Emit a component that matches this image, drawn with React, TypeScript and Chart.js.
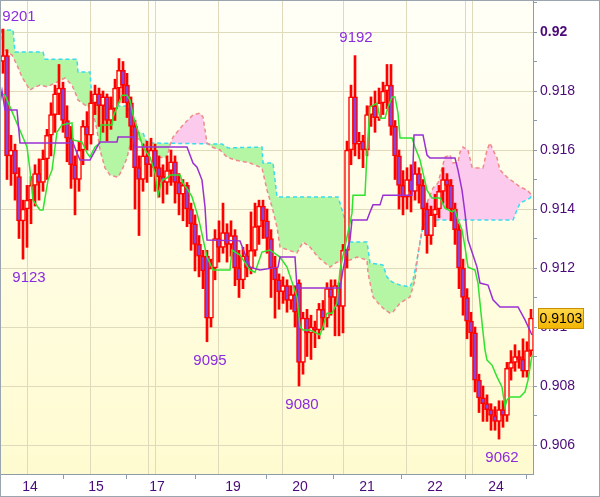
import React, { useEffect, useRef } from "react";
import { Chart, registerables } from "chart.js";

Chart.register(...registerables);

// Hourly candles, prices stored in pips (9192 = 0.9192)
const opens = [
  9190, 9192, 9158, 9160, 9151, 9136, 9140, 9143, 9148, 9152,
  9149, 9157, 9165, 9172, 9179, 9181, 9170, 9164, 9155, 9150,
  9160, 9168, 9165, 9176, 9179, 9175, 9178, 9170, 9174, 9181,
  9187, 9182, 9176, 9168, 9154, 9150, 9158, 9155, 9160, 9154,
  9151, 9149, 9153, 9156, 9149, 9145, 9148, 9140, 9135, 9128,
  9124, 9124, 9103, 9120, 9130, 9127, 9132, 9128, 9131, 9120,
  9116, 9124, 9120, 9126, 9134, 9141, 9136, 9130, 9120, 9116,
  9112, 9114, 9109, 9111, 9115, 9088, 9103, 9098, 9100, 9099,
  9106, 9103, 9113, 9110, 9114, 9107, 9126, 9160, 9178, 9162,
  9163, 9160, 9172, 9175, 9171, 9176, 9180, 9182, 9168, 9158,
  9148, 9144, 9150, 9146, 9152, 9148, 9140, 9131, 9138, 9140,
  9146, 9150, 9148, 9140, 9133, 9120, 9110, 9102, 9098, 9082,
  9076, 9074, 9072, 9070, 9068, 9072, 9070, 9086, 9088, 9090,
  9089, 9085, 9092,
];
const closes = [
  9192, 9158, 9160, 9152, 9136, 9140, 9143, 9148, 9152, 9149,
  9157, 9165, 9172, 9179, 9181, 9170, 9164, 9155, 9150, 9160,
  9168, 9165, 9176, 9179, 9175, 9178, 9170, 9174, 9181, 9187,
  9182, 9176, 9168, 9154, 9150, 9158, 9155, 9160, 9154, 9151,
  9149, 9153, 9156, 9149, 9145, 9148, 9140, 9135, 9128, 9124,
  9119, 9103, 9120, 9130, 9127, 9132, 9128, 9131, 9120, 9116,
  9124, 9120, 9126, 9134, 9141, 9136, 9130, 9120, 9116, 9112,
  9114, 9109, 9111, 9105, 9088, 9103, 9098, 9100, 9099, 9106,
  9103, 9113, 9110, 9114, 9107, 9126, 9160, 9178, 9162, 9163,
  9160, 9172, 9175, 9171, 9176, 9180, 9182, 9168, 9158, 9148,
  9144, 9150, 9146, 9152, 9148, 9140, 9131, 9138, 9140, 9146,
  9150, 9148, 9140, 9133, 9120, 9110, 9102, 9098, 9082, 9076,
  9074, 9072, 9070, 9068, 9072, 9070, 9086, 9088, 9090, 9089,
  9085, 9092, 9103,
];
const highs = [
  9201, 9194, 9165, 9162, 9154, 9143, 9148, 9151, 9155, 9157,
  9160, 9167, 9176, 9182, 9189, 9183, 9175, 9168, 9158, 9163,
  9170, 9173, 9180, 9182, 9181, 9180, 9179, 9178, 9184, 9191,
  9190, 9186, 9178, 9170, 9158, 9162, 9163, 9164, 9162, 9158,
  9155, 9158, 9160, 9158, 9152, 9150, 9149, 9142, 9138, 9131,
  9126, 9126, 9123, 9133, 9136, 9142, 9135, 9136, 9133, 9126,
  9127, 9128, 9139, 9142, 9143, 9143, 9140, 9133, 9124, 9118,
  9117, 9116, 9114, 9114, 9116, 9105, 9106, 9104, 9102, 9108,
  9109, 9115, 9116, 9116, 9115, 9128, 9163, 9182, 9192, 9166,
  9165, 9175, 9178, 9180, 9181, 9183, 9189, 9189, 9170, 9160,
  9153, 9154, 9155, 9156, 9154, 9150, 9142, 9141, 9145, 9148,
  9154, 9152, 9150, 9142, 9135, 9123, 9113, 9105, 9100, 9084,
  9080, 9077, 9074, 9073, 9075, 9075, 9088, 9092, 9094, 9092,
  9096, 9095, 9106,
];
const lows = [
  9186, 9150, 9148, 9143, 9130, 9123, 9127, 9135, 9141, 9143,
  9146, 9150, 9158, 9166, 9172, 9166, 9156, 9147, 9138, 9146,
  9155, 9160, 9162, 9172, 9168, 9166, 9163, 9167, 9170, 9176,
  9176, 9171, 9160, 9140, 9131, 9146, 9149, 9151, 9146, 9144,
  9142, 9145, 9148, 9142, 9138, 9136, 9134, 9126, 9119, 9117,
  9113, 9095, 9100, 9116, 9122, 9125, 9122, 9124, 9114, 9110,
  9113, 9117, 9118, 9124, 9128, 9130, 9125, 9110, 9103, 9106,
  9108, 9105, 9106, 9100, 9080, 9084, 9090, 9089, 9093, 9096,
  9099, 9100, 9104, 9097, 9097, 9098, 9120, 9155, 9158, 9157,
  9154, 9158, 9168, 9166, 9170, 9172, 9174, 9165, 9150, 9140,
  9138, 9140, 9139, 9143, 9142, 9133, 9125, 9128, 9134, 9137,
  9142, 9140, 9136, 9128, 9113, 9104, 9096, 9090, 9078, 9071,
  9068, 9068, 9065, 9065, 9062, 9066, 9068, 9082, 9085, 9086,
  9083, 9083, 9090,
];

// [candle index, pips]
const tenkan: [number, number][] = [
  [-0.75, 9179.3], [0.5, 9178.6], [6, 9161], [6.75, 9153.2], [7.5, 9143], [9.25, 9139.7], [10, 9139.7],
  [11.25, 9149.8], [12.25, 9153.2], [13.5, 9166.1], [14.75, 9168.5], [17.25, 9169.2], [17.5, 9163.4],
  [19.75, 9162.7], [21, 9159], [21.75, 9157.6], [23, 9161], [24.25, 9162.4], [24.5, 9168.5], [27.25, 9168.5],
  [27.5, 9171.2], [29.25, 9176.9], [29.75, 9178.6], [31, 9178.6], [31.75, 9176.9], [32.5, 9171.9], [35, 9161],
  [36.75, 9157.6], [38, 9152.2], [38.75, 9144.7], [39.75, 9149.8], [41, 9150.5], [41.75, 9151.5], [44.25, 9151.5],
  [45, 9148.8], [46.25, 9146.4], [47.25, 9144.1], [48.5, 9138.6], [49.25, 9134.6], [51, 9123.7], [52.5, 9119.3],
  [56.75, 9119.3], [57.25, 9126.1], [59.25, 9124.4], [61.75, 9119.3], [63, 9118.6], [64.75, 9125.4], [66.75, 9126.1],
  [69.25, 9123.7], [71, 9120.3], [73.5, 9110.2], [74.25, 9100], [75, 9099], [76.75, 9099], [79.25, 9097.3],
  [80, 9100], [81, 9104.7], [82.25, 9104.7], [83.5, 9108.1], [84.25, 9119.3], [86, 9130.5], [87.25, 9138.6],
  [87.5, 9144.7], [90.5, 9144.7], [91, 9159.3], [91.75, 9174.6], [93.5, 9175.9], [94.25, 9170.8], [95.5, 9170.8],
  [96.25, 9174.6], [97.25, 9178], [98, 9178], [98.75, 9172.5], [99.25, 9164.1], [102.25, 9164.1], [103, 9161],
  [104.25, 9156.6], [106, 9146.4], [107.25, 9143.7], [109.25, 9143.7], [110.5, 9140.3], [112.25, 9139], [113, 9139.7],
  [113.75, 9136.3], [114.75, 9132.9], [115.5, 9127.1], [116.25, 9120.3], [118, 9119.3], [118.75, 9114.9],
  [119.75, 9101.4], [120.5, 9092.2], [121, 9088.8], [122.25, 9087.1], [123.5, 9083.1], [124.75, 9079.7],
  [125.5, 9072.9], [126, 9075.3], [126.75, 9076.3], [129.25, 9076.3], [130.5, 9078], [131.25, 9082], [132.25, 9090.5],
];
const kijun: [number, number][] = [
  [-0.75, 9176], [-0.25, 9180], [0.5, 9173.6], [3.5, 9173.6], [4.25, 9162.4], [17.5, 9162.4], [18.5, 9159],
  [19.25, 9156.6], [21.75, 9156.6], [23.5, 9161], [24.25, 9162.7], [28.5, 9162.7], [28.75, 9164.4], [32.5, 9164.4],
  [33, 9161], [46, 9161], [47.5, 9155.6], [48.5, 9154.2], [49.75, 9149.8], [50.5, 9140.7], [51, 9129.5],
  [59.25, 9129.2], [61.75, 9120.3], [64.25, 9119.3], [68.75, 9120.3], [69.25, 9123.7], [73, 9123.7], [73.5, 9113.2],
  [84.25, 9113.2], [85, 9119.3], [86, 9126.1], [86.75, 9129.5], [87.25, 9136.3], [91, 9136.3], [91.75, 9139],
  [92.5, 9141.4], [94.25, 9141.4], [95, 9144.7], [102.25, 9144.7], [102.75, 9165.1], [105, 9165.1], [106, 9158.3],
  [106.75, 9157.3], [113, 9157.3], [113.75, 9153.2], [114.75, 9146.4], [115.5, 9138.6], [116.25, 9129.5],
  [118.5, 9120.3], [119.25, 9114.9], [121.25, 9114.2], [122.5, 9109.2], [124.25, 9106.8], [128.75, 9106.8],
  [130.5, 9102.4], [132.25, 9097.3],
];
const spanA: [number, number][] = [
  [-0.75, 9200.7], [2.5, 9200.7], [3, 9193.2], [10, 9193.2], [10.5, 9190.8], [18.5, 9190.8], [18.75, 9186.4],
  [21.75, 9186.4], [22.25, 9176.9], [24.25, 9174.9], [31.25, 9174.9], [32.25, 9166.1], [35, 9165.8], [36, 9162.4],
  [54.75, 9162], [56.25, 9160.7], [64.75, 9161], [65, 9155.6], [67.5, 9155.6], [68.5, 9144.1], [83.75, 9144.1],
  [84.25, 9142], [86, 9133.9], [86.75, 9128.8], [91, 9128.8], [91.75, 9121.7], [95, 9121], [96, 9116.9],
  [97.25, 9115.3], [99.25, 9114.2], [101.75, 9113.6], [102.5, 9115.9], [103.5, 9122.7], [104.25, 9128.5],
  [105, 9133.9], [106.25, 9136.3], [127.5, 9136.3], [128.5, 9139.7], [129.25, 9142], [131.75, 9143.7], [132.25, 9144.7],
];
const spanB: [number, number][] = [
  [-0.75, 9200.7], [-0.25, 9200], [0, 9194.9], [1, 9193.2], [2.25, 9192.2], [3.5, 9188.8], [4.75, 9184.7],
  [6.75, 9180.3], [7.5, 9181], [9.25, 9182], [11, 9181.4], [13, 9182.7], [15.5, 9184.4], [17.25, 9182],
  [18.5, 9178], [18.75, 9176.9], [21.25, 9174.6], [22.25, 9174.2], [23.5, 9166.8], [24.25, 9160], [25.5, 9153.9],
  [26.75, 9151.5], [28.75, 9150.8], [29.75, 9153.2], [31, 9157.3], [31.75, 9161.7], [32.5, 9165.1], [34.25, 9163.4],
  [36, 9160.7], [38.75, 9157.6], [41, 9157.3], [41.75, 9161.7], [42.5, 9164.4], [45, 9168.5], [47.5, 9171.9],
  [49.25, 9172.5], [50, 9171.2], [51, 9162.4], [52.25, 9161], [54.25, 9160], [56, 9157.6], [58, 9156.6],
  [61.75, 9155.6], [64.75, 9153.9], [66, 9146.4], [67.25, 9140.7], [68.5, 9133.9], [69.25, 9127.1], [71.25, 9126.1],
  [73.5, 9125.1], [75, 9128.8], [76.75, 9127.1], [78.75, 9123.7], [80.5, 9121.7], [81.75, 9120.3], [83.5, 9122],
  [86.75, 9122.7], [88.5, 9123.7], [91, 9122.7], [91.25, 9118.3], [92.5, 9110.2], [93.75, 9108.1], [95.5, 9105.8],
  [96.75, 9104.7], [97.5, 9105.1], [99.25, 9108.1], [101.75, 9110.2], [103, 9115.9], [103.75, 9125.1],
  [104.75, 9132.9], [105.5, 9139.7], [106.25, 9143], [107.5, 9147.1], [108.75, 9148.8], [109.75, 9153.9],
  [110.5, 9157.6], [111.75, 9158.3], [112.5, 9155.6], [113.75, 9155.9], [114.25, 9159.3], [115, 9161],
  [116.25, 9160], [117.25, 9154.2], [118.5, 9153.9], [120, 9153.9], [121, 9160], [121.75, 9162.4], [122.5, 9160],
  [123.5, 9157.3], [124.25, 9153.2], [126, 9150.8], [128, 9148.8], [129.25, 9147.5], [131, 9146.4], [132.25, 9144.7],
];

const xTickIdx = [6.75, 23.25, 38.5, 57.5, 74.25, 91, 108, 123.25];
const xTickLabels = ["14", "15", "17", "19", "20", "21", "22", "24"];
const dayLineIdx = [6, 21.75, 36.25, 38, 53.75, 69.75, 85, 100.75, 115.5, 117.25];
const peakIdx = [0, 88];
const troughIdx = [5, 51, 74, 124];

const FONT = "'Liberation Sans', Arial, sans-serif";
const AXIS_TEXT = "#4b0a7a";
const GRID = "#dedabb";
const AXIS_LINE = "#8e9ba8";
const toP = (v: number) => v / 10000;
const pts = (arr: [number, number][]) => arr.map(([x, y]) => ({ x, y: toP(y) }));

export default function App() {
  const ref = useRef<HTMLCanvasElement>(null);

  useEffect(() => {
    if (!ref.current) return;
    Chart.defaults.font.family = FONT;

    const n = closes.length;
    const bodyData = closes.map((c, i) => ({ x: i, y: [toP(opens[i]), toP(c)] }));
    const wickData = highs.map((h, i) => ({ x: i, y: [toP(lows[i]), toP(h)] }));
    const bodyFill = closes.map((c, i) => (c < opens[i] ? "#8a44d8" : "#fffbe2"));

    const bgPlugin = {
      id: "bg",
      beforeDraw(chart: any) {
        const { ctx, chartArea: a } = chart;
        ctx.save();
        ctx.fillStyle = "#ffffff";
        ctx.fillRect(0, 0, chart.width, chart.height);
        const g = ctx.createLinearGradient(0, a.top, 0, a.bottom);
        g.addColorStop(0, "#fffff7");
        g.addColorStop(1, "#fffbd0");
        ctx.fillStyle = g;
        ctx.fillRect(a.left, a.top, a.right - a.left, a.bottom - a.top);
        ctx.restore();
      },
      beforeDatasetsDraw(chart: any) {
        const { ctx, chartArea: a, scales } = chart;
        ctx.save();
        ctx.strokeStyle = GRID;
        ctx.lineWidth = 1;
        dayLineIdx.forEach((v) => {
          const x = Math.round(scales.x.getPixelForValue(v)) + 0.5;
          ctx.beginPath();
          ctx.moveTo(x, a.top);
          ctx.lineTo(x, a.bottom);
          ctx.stroke();
        });
        ctx.restore();
      },
    };

    const overlayPlugin = {
      id: "overlay",
      afterDraw(chart: any) {
        const { ctx, chartArea: a, scales } = chart;
        const xs = scales.x, ys = scales.y;
        ctx.save();
        ctx.font = `15px ${FONT}`;
        ctx.fillStyle = "#8b2be0";
        ctx.textAlign = "center";
        ctx.textBaseline = "middle";
        peakIdx.forEach((i) => {
          let x = xs.getPixelForValue(i) + 1;
          let y = ys.getPixelForValue(toP(highs[i])) - 18;
          x = Math.max(x, a.left + 18);
          y = Math.max(y, a.top + 16);
          ctx.fillText(String(highs[i]), x, y);
        });
        troughIdx.forEach((i) => {
          let x = xs.getPixelForValue(i) + 3;
          x = Math.max(x, a.left + 28);
          const y = ys.getPixelForValue(toP(lows[i])) + 19;
          ctx.fillText(String(lows[i]), x, y);
        });

        // last price tag
        const last = toP(closes[n - 1]);
        const ty = ys.getPixelForValue(last);
        const bx = a.right + 5, bw = 46, bh = 20;
        const by = Math.round(ty - bh / 2) + 0.5;
        const g = ctx.createLinearGradient(0, by, 0, by + bh);
        g.addColorStop(0, "#ffd84a");
        g.addColorStop(1, "#f2b400");
        ctx.fillStyle = g;
        ctx.fillRect(bx, by, bw, bh);
        ctx.strokeStyle = "#c89000";
        ctx.lineWidth = 1;
        ctx.strokeRect(bx + 0.5, by, bw - 1, bh);
        ctx.fillStyle = "#000000";
        ctx.font = `14px ${FONT}`;
        ctx.fillText(last.toFixed(4), bx + bw / 2, by + bh / 2 + 1);

        // frame
        ctx.strokeStyle = "#9aa5b0";
        ctx.strokeRect(0.5, 0.5, chart.width - 1, chart.height - 1);
        ctx.restore();
      },
    };

    const chart = new Chart(ref.current, {
      type: "bar",
      data: {
        datasets: [
          {
            type: "line",
            data: pts(spanA),
            borderColor: "#38dcef",
            borderWidth: 1.5,
            borderDash: [4, 3],
            pointRadius: 0,
            fill: { target: 1, above: "rgb(180,246,164)", below: "rgb(252,202,236)" },
            order: 10,
          } as any,
          {
            type: "line",
            data: pts(spanB),
            borderColor: "#f08a8a",
            borderWidth: 1.5,
            borderDash: [4, 3],
            pointRadius: 0,
            fill: false,
            order: 9,
          } as any,
          {
            type: "bar",
            data: wickData,
            backgroundColor: "#ff0000",
            borderWidth: 0,
            barThickness: 2,
            grouped: false,
            order: 6,
          } as any,
          {
            type: "bar",
            data: bodyData,
            backgroundColor: bodyFill,
            borderColor: "#ff0000",
            borderWidth: 1.5,
            borderSkipped: false,
            barThickness: 5,
            grouped: false,
            order: 5,
          } as any,
          {
            type: "line",
            data: pts(tenkan),
            borderColor: "#2fe32f",
            borderWidth: 1.5,
            pointRadius: 0,
            fill: false,
            order: 2,
          } as any,
          {
            type: "line",
            data: pts(kijun),
            borderColor: "#9a30d2",
            borderWidth: 1.5,
            pointRadius: 0,
            fill: false,
            order: 1,
          } as any,
        ],
      },
      options: {
        responsive: false,
        animation: false,
        devicePixelRatio: 1,
        layout: { padding: { left: 1, top: 1, right: 1, bottom: 1 } },
        plugins: { legend: { display: false }, tooltip: { enabled: false } },
        scales: {
          x: {
            type: "linear",
            min: -0.5,
            max: n - 0.5,
            offset: false,
            afterBuildTicks: (s: any) => {
              s.ticks = xTickIdx.map((v) => ({ value: v }));
            },
            afterFit: (s: any) => {
              s.height = 22;
              s.paddingLeft = 0;
              s.paddingRight = 0;
            },
            ticks: {
              autoSkip: false,
              maxRotation: 0,
              padding: 0,
              color: AXIS_TEXT,
              font: { size: 14, family: FONT },
              callback: (_v: any, i: number) => xTickLabels[i],
            },
            grid: { drawOnChartArea: false, drawTicks: true, tickLength: 5, tickColor: AXIS_LINE },
            border: { color: AXIS_LINE },
          },
          y: {
            type: "linear",
            position: "right",
            min: 0.905017,
            max: 0.921051,
            afterFit: (s: any) => {
              s.width = 66;
              s.paddingTop = 0;
              s.paddingBottom = 0;
            },
            ticks: {
              stepSize: 0.001,
              includeBounds: false,
              padding: 3,
              color: AXIS_TEXT,
              font: (c: any) => ({
                size: 14,
                family: FONT,
                weight: c.tick && Math.abs(c.tick.value - 0.92) < 1e-6 ? "bold" : "normal",
              }),
              callback: (v: any) => {
                const k = Math.round(Number(v) * 1000);
                return k % 2 === 0 ? String(+Number(v).toFixed(3)) : "";
              },
            },
            grid: {
              color: (c: any) =>
                c.tick && Math.round(c.tick.value * 1000) % 2 === 0 ? GRID : "rgba(0,0,0,0)",
              tickColor: AXIS_LINE,
              tickLength: 4,
            },
            border: { color: AXIS_LINE },
          },
        },
      } as any,
      plugins: [bgPlugin, overlayPlugin],
    });

    return () => chart.destroy();
  }, []);

  return (
    <div style={{ position: "absolute", left: 0, top: 0, width: 600, height: 497 }}>
      <canvas ref={ref} width={600} height={497} style={{ display: "block" }} />
    </div>
  );
}
